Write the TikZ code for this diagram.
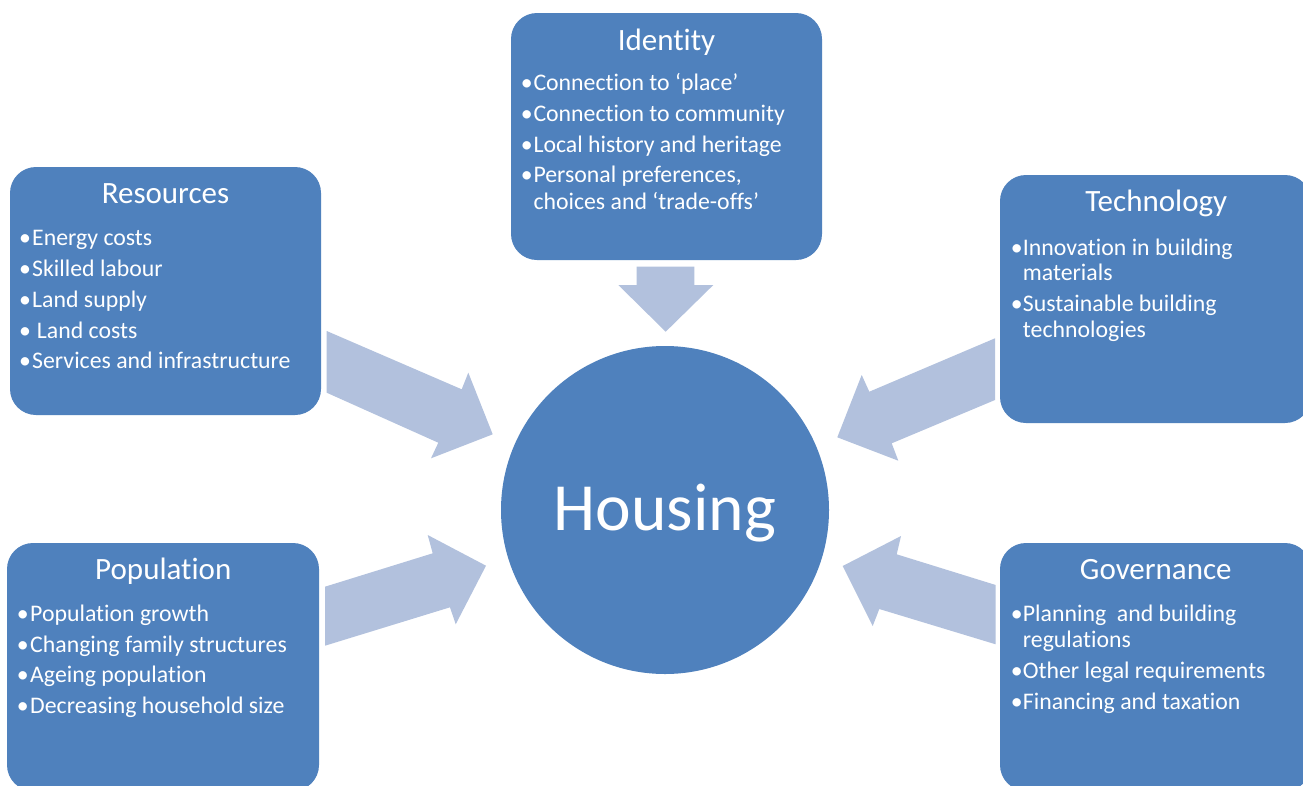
\documentclass[tikz,border=0pt]{standalone}
\usepackage{fontspec}
\setmainfont{Carlito}[Ligatures={NoCommon}]
\definecolor{boxblue}{HTML}{4F81BD}
\definecolor{arrowblue}{HTML}{B2C1DD}
\begin{document}
\begin{tikzpicture}[x=1pt,y=-1pt,
  box/.style={draw=none, fill=boxblue, rounded corners=26pt, minimum width=311pt, minimum height=248pt, inner sep=0pt},
  arr/.style={fill=arrowblue, draw=none},
  ttl/.style={text=white, anchor=base, inner sep=0pt, font=\fontsize{31}{36}\selectfont},
  itm/.style={text=white, anchor=base west, inner sep=0pt, font=\fontsize{23.8}{28}\selectfont},
  bul/.style={text=white, anchor=base, inner sep=0pt, font=\fontsize{23.8}{28}\selectfont},
  big/.style={text=white, anchor=base, inner sep=0pt, font=\fontsize{67.5}{80}\selectfont}]
\useasboundingbox (0,0) rectangle (1303,785);
\clip (0,0) rectangle (1303,785);
\fill[white] (0,0) rectangle (1303,785);

% arrows
\fill[arr] (636.7,266.7) -- (694.3,266.7) -- (694.3,285) -- (713.3,285) -- (665.7,331.7) -- (618.3,285) -- (636.7,285) -- cycle;
\fill[arr] (326.7,331) -- (461.7,389.3) -- (468.3,372.7) -- (492.7,434.3) -- (431,458.3) -- (438.3,442.7) -- (326.7,392.7) -- cycle;
\fill[arr] (325,645.7) -- (325,586.7) -- (432.7,553.3) -- (427.7,535) -- (486,565.7) -- (455.7,624.3) -- (450,607.3) -- cycle;
\fill[arr] (995,338.3) -- (995,400) -- (891.7,443.3) -- (898.3,460.7) -- (837.3,437.3) -- (861.7,375) -- (869.3,391.7) -- cycle;
\fill[arr] (995.7,585) -- (995.7,644.3) -- (879.3,609) -- (872.7,626) -- (842.7,566) -- (901,536) -- (896.7,554.3) -- cycle;

% centre
\node[circle, fill=boxblue, minimum size=328pt, inner sep=0pt] (housing) at (665,510) {};
\node[big] (housingtxt) at (665,530) {Housing};

% Identity
\node[box, minimum height=247pt] (identity) at (666.5,136.5) {};
\node[ttl] (idt) at (666.5,50) {Identity};
\node[bul] (ib1) at (526.7,90.7) {•};
\node[itm] (it1) at (533.3,90.7) {Connection to ‘place’};
\node[bul] (ib2) at (526.7,121.7) {•};
\node[itm] (it2) at (533.3,121.7) {Connection to community};
\node[bul] (ib3) at (526.7,152.7) {•};
\node[itm] (it3) at (533.3,152.7) {Local history and heritage};
\node[bul] (ib4) at (526.7,182.7) {•};
\node[itm] (it4) at (533.3,182.7) {Personal preferences,};
\node[itm] (it5) at (533.3,209.3) {choices and ‘trade-offs’};

% Resources
\node[box] (resources) at (165.5,291) {};
\node[ttl] (rst) at (165.5,203) {Resources};
\node[bul] (rb1) at (25,245) {•};
\node[itm] (rt1) at (32,245) {Energy costs};
\node[bul] (rb2) at (25,276) {•};
\node[itm] (rt2) at (32,276) {Skilled labour};
\node[bul] (rb3) at (25,307) {•};
\node[itm] (rt3) at (32,307) {Land supply};
\node[bul] (rb4) at (25,338) {•};
\node[itm] (rt4) at (36.7,338) {Land costs};
\node[bul] (rb5) at (25,368) {•};
\node[itm] (rt5) at (32,368) {Services and infrastructure};

% Technology
\node[box] (technology) at (1155.5,299) {};
\node[ttl] (tct) at (1156.3,211.7) {Technology};
\node[bul] (tb1) at (1016.7,255) {•};
\node[itm] (tt1) at (1022.7,255) {Innovation in building};
\node[itm] (tt2) at (1022.7,280) {materials};
\node[bul] (tb2) at (1016.7,311.7) {•};
\node[itm] (tt3) at (1022.7,311.7) {Sustainable building};
\node[itm] (tt4) at (1022.7,337.7) {technologies};

% Population
\node[box, minimum width=312pt] (population) at (163,667) {};
\node[ttl] (ppt) at (163.3,579.3) {Population};
\node[bul] (pb1) at (22.7,621.7) {•};
\node[itm] (pt1) at (30,621.7) {Population growth};
\node[bul] (pb2) at (22.7,652.7) {•};
\node[itm] (pt2) at (30,652.7) {Changing family structures};
\node[bul] (pb3) at (22.7,682.7) {•};
\node[itm] (pt3) at (30,682.7) {Ageing population};
\node[bul] (pb4) at (22.7,713.3) {•};
\node[itm] (pt4) at (30,713.3) {Decreasing household size};

% Governance
\node[box] (governance) at (1155.5,667) {};
\node[ttl] (gvt) at (1155.8,579.3) {Governance};
\node[bul] (gb1) at (1016.7,621.7) {•};
\node[itm] (gt1) at (1022.7,621.7) {Planning\ \ and building};
\node[itm] (gt2) at (1022.7,647.7) {regulations};
\node[bul] (gb2) at (1016.7,678.3) {•};
\node[itm] (gt3) at (1022.7,678.3) {Other legal requirements};
\node[bul] (gb3) at (1016.7,709.3) {•};
\node[itm] (gt4) at (1022.7,709.3) {Financing and taxation};
\end{tikzpicture}
\end{document}
